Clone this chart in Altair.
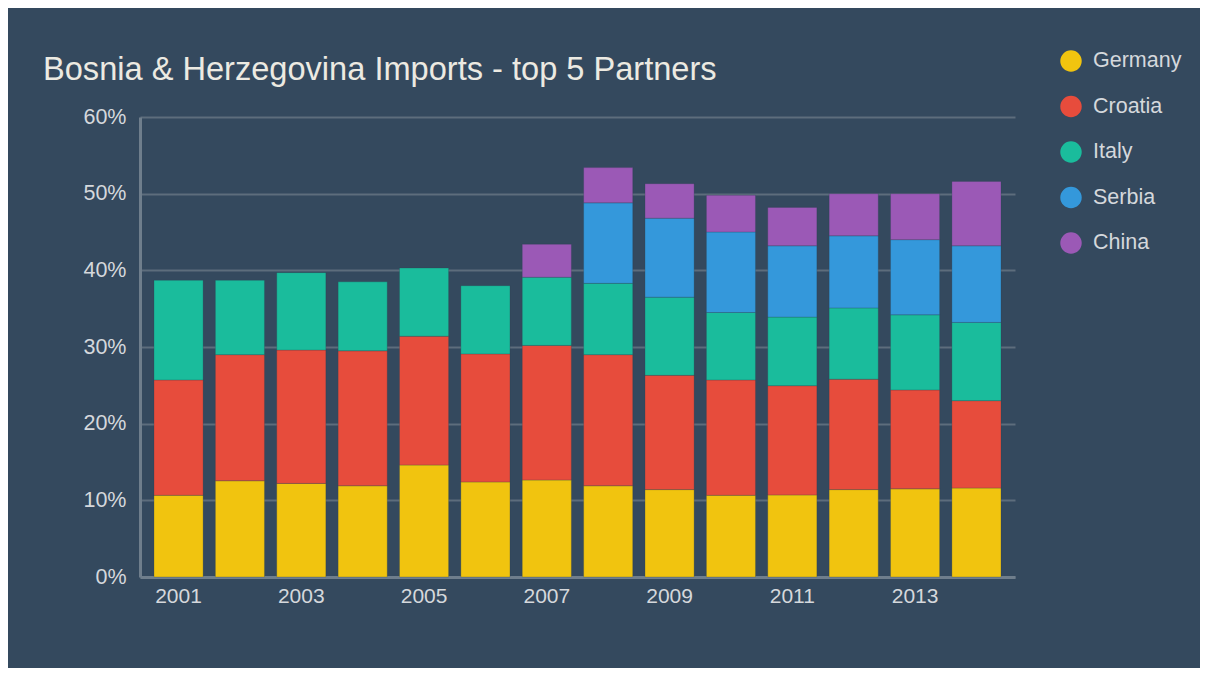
import altair as alt
import pandas as pd

years = ["2001", "2002", "2003", "2004", "2005", "2006", "2007",
         "2008", "2009", "2010", "2011", "2012", "2013", "2014"]
partners = ["Germany", "Croatia", "Italy", "Serbia", "China"]
colors = ["#f1c40f", "#e74c3c", "#1abc9c", "#3498db", "#9b59b6"]

# share of imports, % (None = not among top 5 that year)
germany = [10.65, 12.55, 12.2, 11.9, 14.6, 12.4, 12.65, 11.9, 11.4, 10.65, 10.7, 11.4, 11.5, 11.6]
croatia = [15.05, 16.45, 17.4, 17.6, 16.8, 16.7, 17.55, 17.1, 14.9, 15.05, 14.25, 14.4, 12.9, 11.4]
italy = [13.0, 9.7, 10.1, 9.0, 8.9, 8.9, 8.9, 9.3, 10.2, 8.8, 8.95, 9.3, 9.8, 10.2]
serbia = [None, None, None, None, None, None, None, 10.5, 10.3, 10.5, 9.3, 9.4, 9.8, 10.0]
china = [None, None, None, None, None, None, 4.3, 4.6, 4.5, 4.8, 5.0, 5.5, 6.0, 8.4]

x_label_years = ["2001", "2003", "2005", "2007", "2009", "2011", "2013"]
y_ticks = [0, 0.1, 0.2, 0.3, 0.4, 0.5, 0.6]

rows = []
for idx, (name, vals) in enumerate(zip(partners, [germany, croatia, italy, serbia, china])):
    for yr, v in zip(years, vals):
        if v is None:
            continue
        rows.append({"year": yr, "partner": name, "value": v / 100.0, "ord": idx})
df = pd.DataFrame(rows)

FONT = "Liberation Sans"
LABEL = "#d5d8dc"
GRID = "#5d6d7c"

chart = alt.Chart(df).mark_bar(
    stroke="#2c3e50", strokeWidth=1, strokeOpacity=0.25
).encode(
    x=alt.X("year:O", sort=years,
            scale=alt.Scale(paddingInner=0.2, paddingOuter=0.228),
            axis=alt.Axis(values=x_label_years, labelAngle=0, title=None, ticks=False,
                          domainColor="#6f7e8c", domainWidth=3, labelPadding=8,
                          labelFontSize=21, labelColor=LABEL, labelFont=FONT)),
    y=alt.Y("value:Q", stack="zero",
            scale=alt.Scale(domain=[0, 0.6], nice=False),
            axis=alt.Axis(values=y_ticks, format="%", title=None, ticks=False,
                          grid=True, gridColor=GRID, gridWidth=2,
                          domainColor="#6f7e8c", domainWidth=3, labelPadding=14,
                          labelFontSize=21.5, labelColor=LABEL, labelFont=FONT)),
    color=alt.Color("partner:N",
                    scale=alt.Scale(domain=partners, range=colors),
                    legend=alt.Legend(title=None, orient="none", legendX=920, legendY=-67,
                                      symbolType="circle", symbolSize=460,
                                      symbolStrokeWidth=0, symbolOpacity=1,
                                      labelFontSize=21.5, labelColor=LABEL, labelFont=FONT,
                                      labelOffset=11, rowPadding=23.5, padding=0)),
    order=alt.Order("ord:Q", sort="ascending"),
).properties(
    width=875,
    height=460,
    title=alt.TitleParams("Bosnia & Herzegovina Imports - top 5 Partners",
                          anchor="start", frame="group", dx=-97, offset=-37,
                          fontSize=32.6, font=FONT, fontWeight="normal", color="#eceae2"),
    padding={"left": 132, "top": 109, "right": 185, "bottom": 91},
    autosize=alt.AutoSizeParams(type="none"),
    background="#34495e",
).configure_view(stroke=None)

chart.save("out.html", embed_options={"renderer": "svg", "actions": False})
